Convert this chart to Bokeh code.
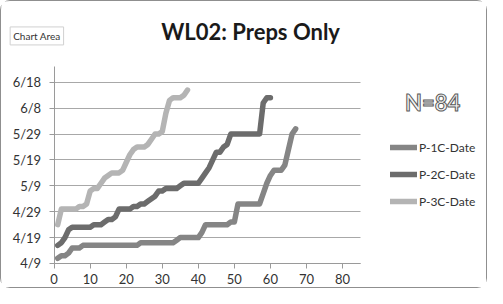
from bokeh.plotting import figure
from bokeh.models import Range1d, FixedTicker, Label, Legend, LegendItem
from bokeh.embed import file_html
from bokeh.resources import INLINE

# ---- data (day offsets from 4/9, per sorted index) ----
p1c_days = [2, 3, 3, 4, 6, 6, 6, 7, 7, 7, 7, 7, 7, 7, 7, 7, 7, 7, 7, 7, 7, 7, 7,
            8, 8, 8, 8, 8, 8, 8, 8, 8, 8, 9, 10, 10, 10, 10, 10, 10, 12,
            15, 15, 15, 15, 15, 15, 15, 16, 16,
            23, 23, 23, 23, 23, 23, 23, 27, 31, 34, 36, 36, 36, 38, 44, 50, 52]
p2c_days = [7, 8, 10, 13, 14, 14, 14, 14, 14, 14, 15, 15, 15, 16, 17, 17, 18, 21, 21, 21,
            21, 22, 22, 23, 23, 24, 25, 26, 28, 28, 29, 29, 29, 29, 30, 31, 31, 31, 31, 31,
            33, 35, 37, 40, 43, 43, 45, 46, 50, 50, 50, 50, 50, 50, 50, 50, 50, 62, 64, 64]
p3c_days = [15, 21, 21, 21, 21, 21, 22, 22, 23, 28, 29, 29, 31, 33, 34, 35, 35, 35, 36, 39,
            42, 44, 45, 45, 45, 46, 48, 50, 50, 51, 58, 63, 64, 64, 64, 65, 67]
p1c_x = list(range(1, len(p1c_days) + 1))
p2c_x = list(range(1, len(p2c_days) + 1))
p3c_x = list(range(1, len(p3c_days) + 1))

series_names = ["P-1C-Date", "P-2C-Date", "P-3C-Date"]
series_colors = ["#858585", "#6c6c6c", "#b4b4b4"]

x_axis_bounds = (0, 85)
y_axis_bounds = (0, 76)
x_ticks = [0, 10, 20, 30, 40, 50, 60, 70, 80]
y_ticks = [0, 10, 20, 30, 40, 50, 60, 70]
y_tick_labels = ["4/9", "4/19", "4/29", "5/9", "5/19", "5/29", "6/8", "6/18"]

title_text = "WL02: Preps Only"
n_text = "N=84"

FONT = "Lato"

p = figure(width=487, height=288, output_backend="svg", toolbar_location=None,
           x_range=Range1d(-14.6, 120.5), y_range=Range1d(-10.05, 101.2),
           min_border=0,
           styles={"border": "1px solid #8f8f8f", "border-radius": "10px"})
p.outline_line_color = None
p.background_fill_color = "white"
p.border_fill_color = "white"

p.xgrid.grid_line_color = None
p.ygrid.grid_line_color = "#a8a8a8"
p.ygrid.grid_line_width = 1
p.ygrid.cross_bounds = x_axis_bounds

p.xaxis.ticker = FixedTicker(ticks=x_ticks)
p.yaxis.ticker = FixedTicker(ticks=y_ticks)
p.ygrid.ticker = FixedTicker(ticks=y_ticks)
p.yaxis.major_label_overrides = {t: l for t, l in zip(y_ticks, y_tick_labels)}
p.xaxis.fixed_location = 0
p.yaxis.fixed_location = 0
p.xaxis.bounds = x_axis_bounds
p.yaxis.bounds = y_axis_bounds
for ax in (p.xaxis, p.yaxis):
    ax.axis_line_color = "#9a9a9a"
    ax.major_tick_line_color = "#9a9a9a"
    ax.minor_tick_line_color = None
    ax.major_tick_out = 5
    ax.major_tick_in = 0
    ax.major_label_text_font = FONT
    ax.major_label_text_font_size = "13px"
    ax.major_label_text_color = "#333333"
p.xaxis.major_label_standoff = 6
p.yaxis.major_label_standoff = 8

renderers = []
for xs, ys, c in zip([p1c_x, p2c_x, p3c_x], [p1c_days, p2c_days, p3c_days], series_colors):
    r = p.line(xs, ys, line_color=c, line_width=5.5, line_join="round", line_cap="round")
    renderers.append(r)

legend = Legend(items=[LegendItem(label=n, renderers=[r]) for n, r in zip(series_names, renderers)],
                location=(389, 78), orientation="vertical",
                glyph_width=27, glyph_height=20, label_height=20, label_standoff=2,
                spacing=7, padding=0, margin=0,
                label_text_font=FONT, label_text_font_size="12px", label_text_color="#333333",
                background_fill_alpha=0, border_line_alpha=0)
p.add_layout(legend, "center")

p.add_layout(Label(x=54.5, y=89.6, text=title_text, text_align="center", text_baseline="middle",
                   text_font=FONT, text_font_style="bold", text_font_size="22px",
                   text_color="#1a1a1a"))

p.add_layout(Label(x=-12.2, y=87.9, text="Chart Area", text_align="left", text_baseline="middle",
                   text_font=FONT, text_font_size="10px", text_color="#333333",
                   background_fill_color="white", border_line_color="#d0d0d0",
                   padding=3))

p.add_layout(Label(x=105.0, y=62.1, text=n_text, text_align="center", text_baseline="middle",
                   text_font=FONT, text_font_style="bold", text_font_size="22px",
                   text_color="#f2f2f2", text_outline_color="#5a5a5a"))

open("out.html", "w").write(file_html(p, INLINE))
